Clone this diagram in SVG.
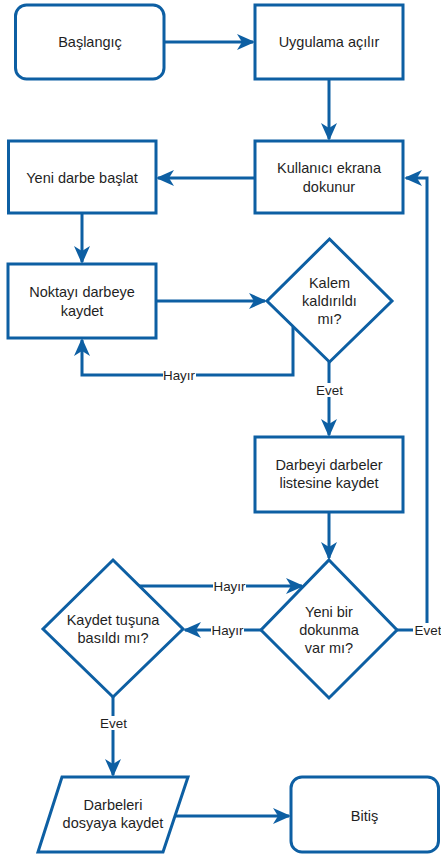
<svg xmlns="http://www.w3.org/2000/svg" width="441" height="854" viewBox="0 0 441 854">
<defs>
<style>
.n{fill:#fff;stroke:#0d5fa3;stroke-width:3}
.e{fill:none;stroke:#0d5fa3;stroke-width:3;stroke-linejoin:miter}
.a{marker-end:url(#ar)}
.t{font-family:"Liberation Sans",Arial,sans-serif;font-size:14.5px;fill:#1f1f1f;text-anchor:middle}
.l{font-family:"Liberation Sans",Arial,sans-serif;font-size:13.4px;fill:#1f1f1f;text-anchor:middle}
.bg{fill:#fff}
</style>
<marker id="ar" markerUnits="userSpaceOnUse" viewBox="0 0 18 16" refX="16" refY="8" markerWidth="18" markerHeight="16" orient="auto">
<path d="M0,0 L18,8 L0,16 L5,8 Z" fill="#0d5fa3"/>
</marker>
</defs>
<rect width="441" height="854" fill="#fff"/>
<g id="connectors">
<path class="e a" d="M164,42 L253,42"/>
<path class="e a" d="M329,79 L329,139"/>
<path class="e a" d="M255,178 L158,178"/>
<path class="e a" d="M82,213 L82,262"/>
<path class="e a" d="M156,301 L265,301"/>
<path class="e a" d="M293,327 L293,375 L82,375 L82,340"/>
<path class="e a" d="M329,362 L329,435"/>
<path class="e a" d="M329,512 L329,558"/>
<path class="e a" d="M261,630 L185,630"/>
<path class="e a" d="M139,586 L302,586"/>
<path class="e a" d="M397,630 L427,630 L427,178 L406,178"/>
<path class="e a" d="M113,697 L113,775"/>
<path class="e a" d="M175,816 L289,816"/>
<rect class="bg" x="163" y="368" width="33" height="14"/>
<text class="l" x="179" y="380">Hayır</text>
<rect class="bg" x="315" y="383" width="29" height="14"/>
<text class="l" x="329.5" y="395">Evet</text>
<rect class="bg" x="213" y="579" width="33" height="14"/>
<text class="l" x="229.5" y="591">Hayır</text>
<rect class="bg" x="211" y="623" width="33" height="14"/>
<text class="l" x="227.5" y="635">Hayır</text>
<rect class="bg" x="413" y="623" width="28" height="14"/>
<text class="l" x="428" y="635">Evet</text>
<rect class="bg" x="99" y="716" width="29" height="14"/>
<text class="l" x="113.5" y="728">Evet</text>
</g>
<g id="baslangic">
<rect class="n" x="15.5" y="5" width="148.5" height="74" rx="11"/>
<text class="t" x="90" y="47">Başlangıç</text>
</g>
<g id="uygulama">
<rect class="n" x="255" y="5" width="148" height="74"/>
<text class="t" x="329" y="47">Uygulama açılır</text>
</g>
<g id="kullanici">
<rect class="n" x="255" y="141" width="148" height="72"/>
<text class="t" x="329" y="173">Kullanıcı ekrana</text>
<text class="t" x="329" y="192">dokunur</text>
</g>
<g id="yeni-darbe">
<rect class="n" x="8.5" y="141" width="147.5" height="72"/>
<text class="t" x="82" y="183">Yeni darbe başlat</text>
</g>
<g id="noktayi">
<rect class="n" x="8" y="264" width="148" height="74"/>
<text class="t" x="82" y="297">Noktayı darbeye</text>
<text class="t" x="82" y="316">kaydet</text>
</g>
<g id="kalem">
<polygon class="n" points="329.5,239 392,301 329.5,362 267,301"/>
<text class="t" x="329.5" y="288">Kalem</text>
<text class="t" x="329.5" y="306">kaldırıldı</text>
<text class="t" x="329.5" y="324">mı?</text>
</g>
<g id="darbeyi">
<rect class="n" x="255" y="437" width="148" height="75"/>
<text class="t" x="329" y="470">Darbeyi darbeler</text>
<text class="t" x="329" y="488">listesine kaydet</text>
</g>
<g id="yeni-dokunma">
<polygon class="n" points="329,560 397,630 329,698 261,630"/>
<text class="t" x="329" y="617">Yeni bir</text>
<text class="t" x="329" y="635">dokunma</text>
<text class="t" x="329" y="653">var mı?</text>
</g>
<g id="kaydet-tusu">
<polygon class="n" points="113,560 183,629 113,697 43,629"/>
<text class="t" x="113" y="625">Kaydet tuşuna</text>
<text class="t" x="113" y="643">basıldı mı?</text>
</g>
<g id="darbeleri-kaydet">
<polygon class="n" points="62,777 188,777 163,852 38,852"/>
<text class="t" x="113" y="810">Darbeleri</text>
<text class="t" x="113" y="828">dosyaya kaydet</text>
</g>
<g id="bitis">
<rect class="n" x="291" y="777" width="147.5" height="75" rx="11"/>
<text class="t" x="364.5" y="821">Bitiş</text>
</g>
</svg>
